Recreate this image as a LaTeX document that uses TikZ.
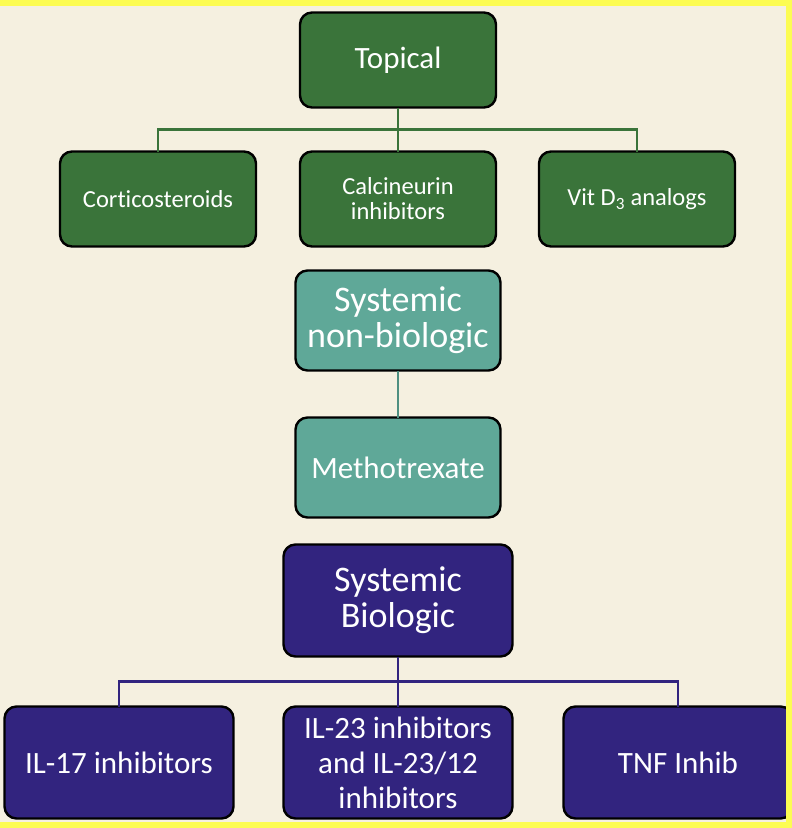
\documentclass[tikz,border=0pt]{standalone}
\usepackage{fontspec}
\setmainfont{Carlito}[Ligatures={NoCommon,NoRequired,NoContextual}]
\usepackage{tikz}
\usetikzlibrary{positioning,calc}
\definecolor{clPaper}{HTML}{F5F0E0}
\definecolor{clFrame}{HTML}{FCFC52}
\definecolor{clTopical}{HTML}{3A743A}
\definecolor{clNonBio}{HTML}{5FA898}
\definecolor{clNonBioLine}{HTML}{4E8F80}
\definecolor{clBio}{HTML}{32247F}
\tikzset{
  box/.style={rectangle, rounded corners=12pt, draw=black, line width=2.4pt,
              align=center, inner sep=0pt, outer sep=0pt, text=white},
  topical/.style={box, fill=clTopical, minimum width=196pt, minimum height=95pt},
  nonbio/.style={box, fill=clNonBio, minimum width=205pt, minimum height=100pt},
  bio/.style={box, fill=clBio, minimum width=229pt, minimum height=112pt},
  big/.style={font=\fontsize{36}{36}\selectfont},
  mid/.style={font=\fontsize{31}{35}\selectfont},
  small/.style={font=\fontsize{24.5}{25}\selectfont},
  tlink/.style={draw=clTopical, line width=2.4pt},
  slink/.style={draw=clNonBioLine, line width=2.4pt},
  blink/.style={draw=clBio, line width=2.4pt},
}
\begin{document}
\begin{tikzpicture}[x=1pt, y=1pt]
  \useasboundingbox (0,0) rectangle (792,-828);
  \fill[clFrame] (0,0) rectangle (792,-828);
  \fill[clPaper] (0,-6) rectangle (786,-822);

  % topical branch
  \node[topical, mid] (topical) at (398,-60) {Topical};
  \node[topical, small, below=44pt of topical] (calci) {Calcineurin\\inhibitors};
  \node[topical, small, left=44pt of calci] (cortico) {Corticosteroids};
  \node[topical, small, right=43pt of calci] (vitd) {Vit D\textsubscript{3} analogs};
  \coordinate (tbar) at ($(topical.south)!0.5!(calci.north)$);
  \draw[tlink] (topical) -- (calci);
  \draw[tlink] (cortico.north) |- (tbar) -| (vitd.north);

  % systemic non-biologic
  \node[nonbio, big, below=24pt of calci] (nonbio) {Systemic\\non-biologic};
  \node[nonbio, mid, below=47pt of nonbio] (mtx) {Methotrexate};
  \draw[slink] (nonbio) -- (mtx);

  % systemic biologic
  \node[bio, big, below=27pt of mtx] (bio) {Systemic\\Biologic};
  \node[bio, mid, below=50pt of bio] (il23) {IL-23 inhibitors\\and IL-23/12\\inhibitors};
  \node[bio, mid, left=50pt of il23] (il17) {IL-17 inhibitors};
  \node[bio, mid, right=51pt of il23] (tnf) {TNF Inhib};
  \coordinate (bbar) at ($(bio.south)!0.5!(il23.north)$);
  \draw[blink] (bio) -- (il23);
  \draw[blink] (il17.north) |- (bbar) -| (tnf.north);

  % frame over the clipped box
  \fill[clFrame] (786,0) rectangle (792,-828);
  \fill[clFrame] (0,-822) rectangle (792,-828);
\end{tikzpicture}
\end{document}
